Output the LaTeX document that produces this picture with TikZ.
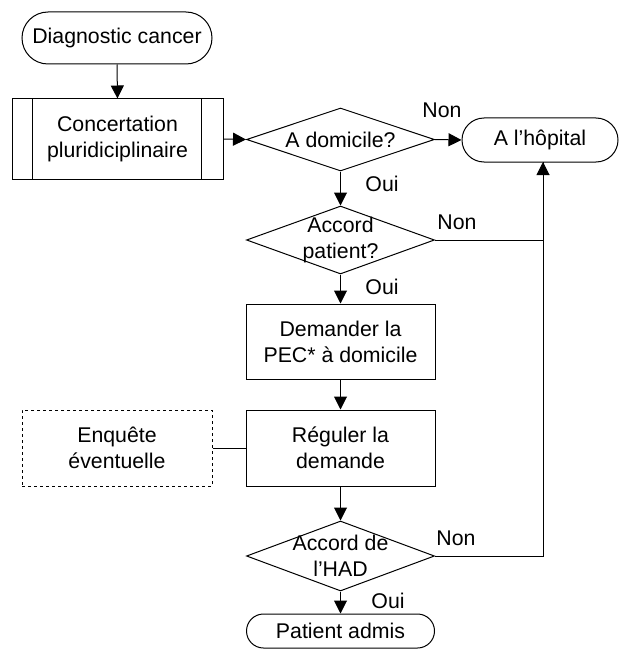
\documentclass[tikz,border=0pt]{standalone}
\usepackage{fontspec}
\setmainfont{Liberation Sans}
\usetikzlibrary{arrows.meta,shapes.geometric}
\begin{document}
\begin{tikzpicture}[x=1pt,y=-1pt,
  every node/.style={font=\fontsize{21.3}{26}\selectfont, align=center},
  lbl/.style={inner sep=0pt},
  terminal/.style={draw, line width=1pt, rectangle, inner sep=0pt},
  boxnode/.style={draw, line width=1pt, rectangle, inner sep=0pt},
  dia/.style={draw, line width=1pt, diamond, inner sep=0pt},
  arr/.style={line width=1pt, -{Triangle[length=13pt,width=13pt]}},
  ln/.style={line width=1pt}]
\path[use as bounding box, fill=white] (0,0) rectangle (620,650);

% nodes
\node[terminal, rounded corners=26pt, minimum width=190pt, minimum height=52pt] (diag) at (117,38) {Diagnostic cancer};
\node[boxnode, minimum width=211pt, minimum height=80pt] (conc) at (117.5,139) {Concertation\\pluridiciplinaire};
\draw[ln] ([xshift=21pt]conc.north west) -- ([xshift=21pt]conc.south west);
\draw[ln] ([xshift=-22pt]conc.north east) -- ([xshift=-22pt]conc.south east);

\node[dia, minimum width=188pt, minimum height=63pt] (dom) at (340.5,139.5) {};
\node[lbl] (domt) at (dom) {A domicile?};

\node[terminal, rounded corners=22pt, minimum width=156pt, minimum height=44pt] (hop) at (540,140) {A l’hôpital};

\node[dia, minimum width=188pt, minimum height=68pt] (pat) at (340.5,240) {};
\node[lbl] (patt) at (pat) {Accord\\patient?};

\node[boxnode, minimum width=189pt, minimum height=75pt] (dem) at (340.5,341.5) {Demander la\\PEC* à domicile};
\node[boxnode, minimum width=189pt, minimum height=76pt] (reg) at (340.5,448) {Réguler la\\demande};
\node[boxnode, dashed, minimum width=190pt, minimum height=76pt] (enq) at (117,448) {Enquête\\éventuelle};

\node[dia, minimum width=188pt, minimum height=70pt] (had) at (340.5,556) {};
\node[lbl] (hadt) at (had) {Accord de\\l’HAD};

\node[terminal, rounded corners=17pt, minimum width=188pt, minimum height=34pt] (adm) at (340.5,631) {Patient admis};

\coordinate (r) at (543,162);

% connectors
\draw[arr] (diag.south) -- (conc.north);
\draw[arr] (conc.east) -- (dom.west);
\draw[arr] (dom.east) -- (hop.west);
\draw[arr] (dom.south) -- (pat.north);
\draw[ln] (pat.east) -| (r);
\draw[arr] (had.east) -| (r);
\draw[arr] (pat.south) -- (dem.north);
\draw[arr] (dem.south) -- (reg.north);
\draw[ln] (enq.east) -- (reg.west);
\draw[arr] (reg.south) -- (had.north);
\draw[arr] (had.south) -- (adm.north);

% labels
\node[lbl] (n1) at (442,110) {Non};
\node[lbl] (o1) at (382,184) {Oui};
\node[lbl] (n2) at (457,222) {Non};
\node[lbl] (o2) at (382,287) {Oui};
\node[lbl] (n3) at (456,538) {Non};
\node[lbl] (o3) at (388,601) {Oui};
\end{tikzpicture}
\end{document}
